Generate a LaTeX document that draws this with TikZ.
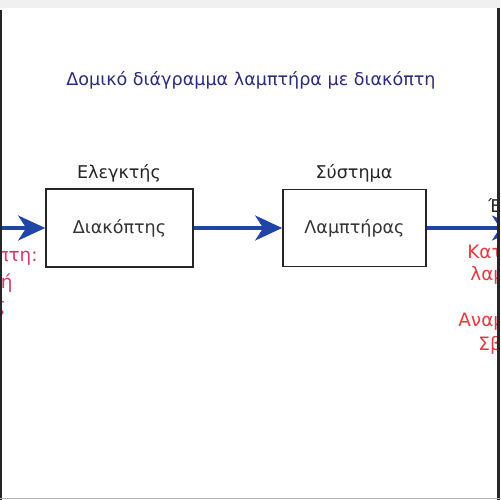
\documentclass[tikz,border=0pt]{standalone}
\usepackage{fontspec}
\setmainfont{DejaVu Sans}
\usetikzlibrary{arrows.meta}
\definecolor{navy}{HTML}{2B2B80}
\definecolor{arrowblue}{HTML}{1F45A6}
\definecolor{redL}{HTML}{D93868}
\definecolor{redR}{HTML}{E63A40}
\tikzset{
  blockbox/.style={draw=black!85, line width=1pt, minimum width=2.94cm, minimum height=1.56cm, font=\fontsize{10}{12}\selectfont, text=black!80},
  blocklabel/.style={inner sep=0pt, font=\fontsize{10}{12}\selectfont, text=black!85},
  flow/.style={draw=arrowblue, line width=1.8pt, -{Stealth[length=0.54cm, width=0.5cm, inset=0.16cm]}},
  redtextL/.style={inner sep=0pt, font=\fontsize{10.5}{12}\selectfont, text=redL},
  redtextR/.style={inner sep=0pt, font=\fontsize{10.5}{12}\selectfont, text=redR},
}
\begin{document}
\begin{tikzpicture}[x=0.02cm,y=-0.02cm]
\useasboundingbox (0,0) rectangle (500,500);
\fill[white] (0,0) rectangle (500,500);
\fill[black!6] (0,0) rectangle (500,8);
\begin{scope}
\clip (2,8) rectangle (497,498);
\node[inner sep=0pt, text=navy, font=\fontsize{10}{12}\selectfont] (title) at (251,80) {Δομικό διάγραμμα λαμπτήρα με διακόπτη};
\node[blockbox] (b1) at (119.5,228) {Διακόπτης};
\node[blockbox, minimum width=2.86cm, minimum height=1.54cm] (b2) at (354.5,228) {Λαμπτήρας};
\node[blocklabel] (l1) at (119,173) {Ελεγκτής};
\node[blocklabel] (l2) at (354,173) {Σύστημα};
\coordinate (in) at (-5,228);
\coordinate (out) at (519,228);
\draw[flow] (in) -- (b1.west);
\draw[flow] (b1.east) -- (b2.west);
\draw[flow] (b2.east) -- (out);
\node[redtextL, anchor=east] (li1) at (38,258) {πτη:};
\node[redtextL, anchor=east] (li2) at (13,283) {ή};
\node[redtextL, anchor=east] (li3) at (6,308) {ς};
\node[blocklabel, anchor=west] (ro) at (488,205) {Έ};
\node[redtextR, anchor=west] (r1) at (467,252) {Κατ};
\node[redtextR, anchor=west] (r2) at (470,275) {λαμ};
\node[redtextR, anchor=west] (r3) at (458,322) {Αναμ};
\node[redtextR, anchor=west] (r4) at (478,345) {Σβ};
\end{scope}
\fill[black!85] (0,10) rectangle (2,500);
\fill[black!85] (497,8) rectangle (500,500);
\draw[black!30] (0,498.5) -- (500,498.5);
\end{tikzpicture}
\end{document}
